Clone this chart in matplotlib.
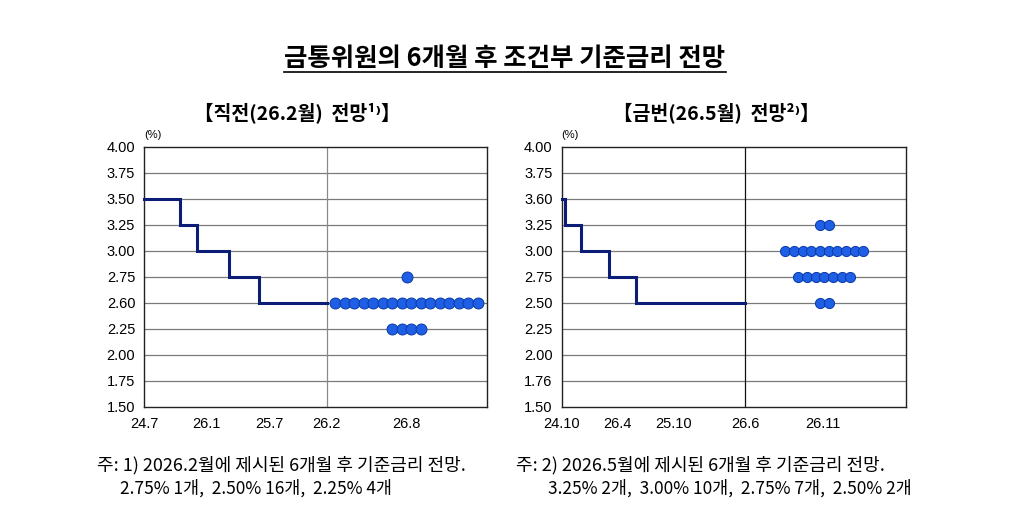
import matplotlib
matplotlib.use("Agg")
import matplotlib.pyplot as plt
import numpy as np
from matplotlib.lines import Line2D

plt.rcParams['font.family'] = ['Noto Sans CJK KR', 'DejaVu Sans']

# --- data ---
y_levels = [1.50, 1.75, 2.00, 2.25, 2.50, 2.75, 3.00, 3.25, 3.50, 3.75, 4.00]
left_ylabels = ['1.50', '1.75', '2.00', '2.25', '2.60', '2.75', '3.00', '3.25', '3.50', '3.75', '4.00']
right_ylabels = ['1.50', '1.76', '2.00', '2.25', '2.50', '2.75', '3.00', '3.25', '3.60', '3.75', '4.00']

# left panel (직전, 26.2월): x in axis units
left_xticks = [0, 6.56, 13.14, 19.18, 27.55]
left_xlabels = ['24.7', '26.1', '25.7', '26.2', '26.8']
left_step_x = [0, 3.75, 5.57, 8.87, 12.09, 19.18]
left_step_rate = [3.50, 3.25, 3.00, 2.75, 2.50]
left_dot_rate = [2.75, 2.50, 2.25]
left_dot_count = [1, 16, 4]

# right panel (금번, 26.5월)
right_xticks = [0, 6.46, 12.95, 21.18, 30.1]
right_xlabels = ['24.10', '26.4', '25.10', '26.6', '26.11']
right_step_x = [0, 0.42, 2.23, 5.46, 8.60, 21.18]
right_step_rate = [3.50, 3.25, 3.00, 2.75, 2.50]
right_dot_rate = [3.25, 3.00, 2.75, 2.50]
right_dot_count = [2, 10, 7, 2]

NAVY = '#0c1d78'
DOT = '#1f5fe6'
DOT_EDGE = '#0a3aa6'


def draw_panel(ax, xmax, xticks, xlabels, ylabels, step_x, step_rate,
               split_x, dot_center, dot_rate, dot_count, dot_size, split_color):
    ax.set_xlim(0, xmax)
    ax.set_ylim(1.5, 4.0)
    ax.set_yticks(y_levels)
    ax.set_yticklabels(ylabels)
    ax.set_xticks(xticks)
    ax.set_xticklabels(xlabels)
    for lab in ax.get_xticklabels() + ax.get_yticklabels():
        lab.set_fontfamily('Liberation Sans')
        lab.set_fontsize(10.5)
    ax.tick_params(axis='both', length=0)
    ax.tick_params(axis='y', pad=6.5)
    ax.tick_params(axis='x', pad=7.5)
    for y in y_levels[1:-1]:
        ax.axhline(y, color='#7a7a7a', lw=0.9, zorder=1)
    ax.axvline(split_x, color=split_color, lw=0.9, zorder=1)
    for s in ax.spines.values():
        s.set_color('#222222')
        s.set_linewidth(1.0)

    # step line of past policy rate
    xs = np.array(step_x)
    ys = np.array(step_rate + [step_rate[-1]])
    ax.step(xs, ys, where='post', color=NAVY, lw=2.2, zorder=3,
            solid_joinstyle='miter', clip_on=False)

    # dot plot
    for rate, n in zip(dot_rate, dot_count):
        px = dot_center + np.arange(n) - (n - 1) / 2
        ax.plot(px, [rate] * n, 'o', ms=dot_size, mfc=DOT, mec=DOT_EDGE,
                mew=0.7, zorder=4, clip_on=False)

    ax.text(0.025, 1.045, '(%)', transform=ax.transAxes, fontsize=8,
            family='Liberation Sans', ha='center', va='center')


fig = plt.figure(figsize=(10.24, 5.27), dpi=100)

ax1 = fig.add_axes([144.3 / 1024, 1 - 406.7 / 527, 342.4 / 1024, 260 / 527])
draw_panel(ax1, 36.0, left_xticks, left_xlabels, left_ylabels, left_step_x,
           left_step_rate, 19.18, 27.58, left_dot_rate, left_dot_count, 7.9,
           '#8a8a8a')

ax2 = fig.add_axes([561.7 / 1024, 1 - 406.7 / 527, 344 / 1024, 260 / 527])
draw_panel(ax2, 39.7, right_xticks, right_xlabels, right_ylabels, right_step_x,
           right_step_rate, 21.18, 30.3, right_dot_rate, right_dot_count, 7.3,
           '#111111')

# titles
title = fig.text(505 / 1024, 1 - 59 / 527, '금통위원의 6개월 후 조건부 기준금리 전망',
                 ha='center', va='center', fontsize=18.3, fontweight='bold')
fig.text(297 / 1024, 1 - 113 / 527, '【직전(26.2월)  전망¹⁾】', ha='center',
         va='center', fontsize=14, fontweight='bold')
fig.text(716 / 1024, 1 - 113 / 527, '【금번(26.5월)  전망²⁾】', ha='center',
         va='center', fontsize=14, fontweight='bold')

# footnotes
fig.text(97 / 1024, 1 - 465 / 527, '주: 1) 2026.2월에 제시된 6개월 후 기준금리 전망.',
         ha='left', va='center', fontsize=13)
fig.text(120 / 1024, 1 - 488 / 527, '2.75% 1개,  2.50% 16개,  2.25% 4개',
         ha='left', va='center', fontsize=12.5)
fig.text(516 / 1024, 1 - 465 / 527, '주: 2) 2026.5월에 제시된 6개월 후 기준금리 전망.',
         ha='left', va='center', fontsize=13)
fig.text(912 / 1024, 1 - 488 / 527, '3.25% 2개,  3.00% 10개,  2.75% 7개,  2.50% 2개',
         ha='right', va='center', fontsize=12.5)

# underline the main title
fig.canvas.draw()
bb = title.get_window_extent().transformed(fig.transFigure.inverted())
fig.add_artist(Line2D([bb.x0, bb.x1], [1 - 72 / 527] * 2, color='black', lw=1.2,
                      transform=fig.transFigure))

fig.savefig('out.png', dpi=100)
